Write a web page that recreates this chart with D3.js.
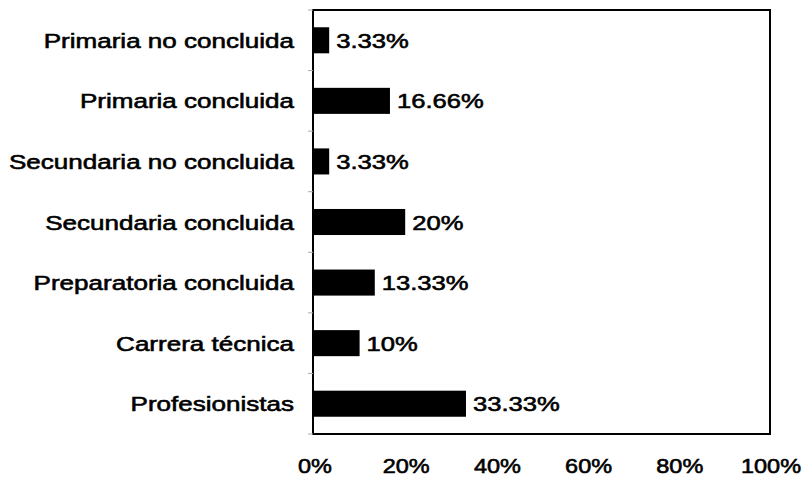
<!DOCTYPE html>
<html>
<head>
<meta charset="utf-8">
<script src="https://cdn.jsdelivr.net/npm/d3@7"></script>
<style>
  html, body { margin: 0; padding: 0; background: #fff; }
  svg { display: block; }
  text { font-family: "Liberation Sans", Arial, sans-serif; fill: #000; }
</style>
</head>
<body>
<svg id="chart" width="806" height="478"></svg>
<script>
const categories = [
  "Primaria no concluida",
  "Primaria concluida",
  "Secundaria no concluida",
  "Secundaria concluida",
  "Preparatoria concluida",
  "Carrera técnica",
  "Profesionistas"
];
const values = [3.33, 16.66, 3.33, 20, 13.33, 10, 33.33];
const valueLabels = ["3.33%", "16.66%", "3.33%", "20%", "13.33%", "10%", "33.33%"];
const tickValues = [0, 20, 40, 60, 80, 100];
const tickLabels = ["0%", "20%", "40%", "60%", "80%", "100%"];

const svg = d3.select("#chart");
const box = { left: 313, right: 770, top: 10, bottom: 434 };

const x = d3.scaleLinear().domain([0, 100]).range([314, 770]);
const y = d3.scaleBand().domain(categories).range([box.top, box.bottom])
  .paddingInner(0.57).paddingOuter(0.285);

const sx = 1.24;

// bars
svg.append("g").selectAll("rect")
  .data(categories)
  .join("rect")
  .attr("x", x(0))
  .attr("y", d => y(d))
  .attr("width", (d, i) => x(values[i]) - x(0))
  .attr("height", y.bandwidth())
  .attr("fill", "#000");

// plot frame
svg.append("rect")
  .attr("x", box.left).attr("y", box.top)
  .attr("width", box.right - box.left).attr("height", box.bottom - box.top)
  .attr("fill", "none").attr("stroke", "#000").attr("stroke-width", 2);

// category axis small tick marks at band boundaries
const boundaries = d3.range(categories.length + 1).map(i => box.top + i * (box.bottom - box.top) / categories.length);
svg.append("g").selectAll("line")
  .data(boundaries)
  .join("line")
  .attr("x1", box.left - 5).attr("x2", box.left)
  .attr("y1", d => d).attr("y2", d => d)
  .attr("stroke", "#aaa").attr("stroke-width", 1);

// category labels
svg.append("g").selectAll("text")
  .data(categories)
  .join("text")
  .attr("transform", d => `translate(294,${y(d) + y.bandwidth() / 2 + 7.5}) scale(${sx},1)`)
  .attr("text-anchor", "end")
  .attr("font-size", 21)
  .attr("stroke", "#000").attr("stroke-width", 0.6)
  .text(d => d);

// value labels
svg.append("g").selectAll("text")
  .data(categories)
  .join("text")
  .attr("transform", (d, i) => `translate(${x(values[i]) + 7},${y(d) + y.bandwidth() / 2 + 7.5}) scale(1.22,1)`)
  .attr("text-anchor", "start")
  .attr("font-size", 21)
  .attr("stroke", "#000").attr("stroke-width", 0.6)
  .text((d, i) => valueLabels[i]);

// x tick labels
svg.append("g").selectAll("text")
  .data(tickValues)
  .join("text")
  .attr("transform", d => `translate(${x(d) + 1},473) scale(1.12,1)`)
  .attr("text-anchor", "middle")
  .attr("font-size", 21)
  .attr("stroke", "#000").attr("stroke-width", 0.6)
  .text((d, i) => tickLabels[i]);
</script>
</body>
</html>
